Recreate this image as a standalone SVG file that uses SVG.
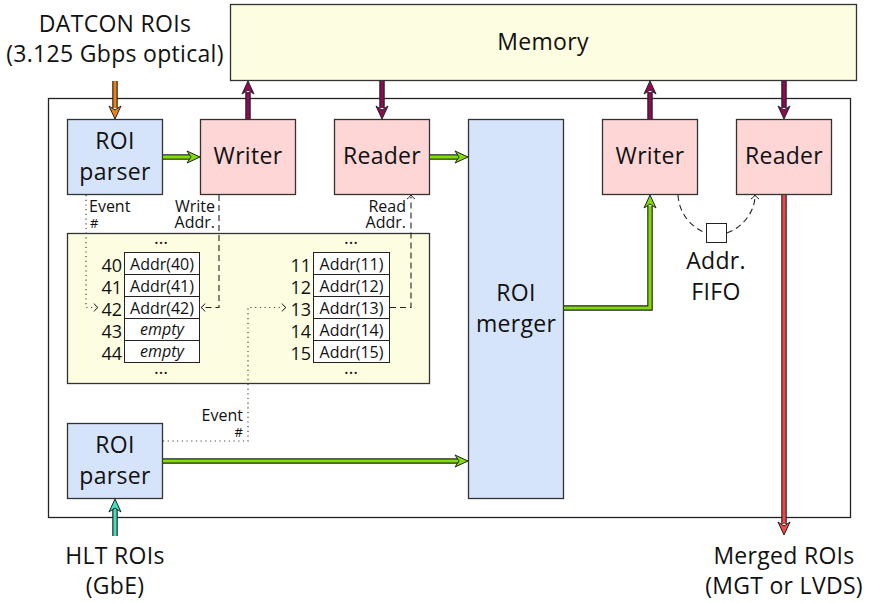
<svg xmlns="http://www.w3.org/2000/svg" xmlns:xlink="http://www.w3.org/1999/xlink" width="874" height="603" viewBox="0 0 874 603">
<style>
text{font-family:"Open Sans","Noto Sans",sans-serif;fill:#111}
.big{font-size:23px;letter-spacing:0.3px}
.sm{font-size:16px}
.hash{font-size:13px}
.cl{font-size:16px}
.num{font-size:18px}
.box{stroke:#333;stroke-width:1.3}
.parser{fill:#d5e4fb}
.rw{fill:#ffd6d6}
.mem{fill:#fdfde1}
.cell{fill:#fff;stroke:#222;stroke-width:1}
.dot{fill:none;stroke:#444;stroke-width:1.2;stroke-dasharray:1.2 3.5}
.dash{fill:none;stroke:#222;stroke-width:1.1;stroke-dasharray:6 4}
.out{fill:none;stroke:#222;stroke-width:5.5}
.g{fill:none;stroke:#80dd00;stroke-width:3.2}
.p{fill:none;stroke:#8e0a54;stroke-width:3.2}
.o{fill:none;stroke:#f08010;stroke-width:3.2}
.t{fill:none;stroke:#40e0c0;stroke-width:3.2}
.r{fill:none;stroke:#f04848;stroke-width:3.2}
.hg{fill:#80dd00;stroke:#222;stroke-width:1}
.hp{fill:#8e0a54;stroke:#222;stroke-width:1}
.ho{fill:#f08010;stroke:#222;stroke-width:1}
.ht{fill:#40e0c0;stroke:#222;stroke-width:1}
.hr{fill:#f04848;stroke:#222;stroke-width:1}
</style>
<defs>
<path id="ah" d="M0,0 L-13,-6 L-9,0 L-13,6 Z"/>
<path id="sh" d="M-4,-4 Q-2,-1 0,0 Q-2,1 -4,4" fill="none" stroke="#222" stroke-width="1"/>
</defs>

<g id="memory">
<rect class="box mem" x="230.5" y="4.5" width="626" height="76"/>
<text class="big" x="543" y="50" text-anchor="middle">Memory</text>
</g>

<g id="outer">
<rect x="48.5" y="98.5" width="802" height="419" fill="none" stroke="#222" stroke-width="1.3"/>
</g>

<g id="datcon-label">
<text class="big" x="115" y="32" text-anchor="middle">DATCON ROIs</text>
<text class="big" x="115" y="62" text-anchor="middle">(3.125 Gbps optical)</text>
</g>

<g id="roi-parser-top">
<rect class="box parser" x="67.5" y="119.5" width="95" height="75"/>
<text class="big" x="115" y="149" text-anchor="middle">ROI</text>
<text class="big" x="115" y="180" text-anchor="middle">parser</text>
</g>

<g id="writer1">
<rect class="box rw" x="200.5" y="119.5" width="95" height="75"/>
<text class="big" x="248" y="164" text-anchor="middle">Writer</text>
</g>

<g id="reader1">
<rect class="box rw" x="334.5" y="119.5" width="95" height="75"/>
<text class="big" x="382" y="164" text-anchor="middle">Reader</text>
</g>

<g id="roi-merger">
<rect class="box parser" x="468.5" y="119.5" width="95" height="379"/>
<text class="big" x="516" y="301" text-anchor="middle">ROI</text>
<text class="big" x="516" y="332" text-anchor="middle">merger</text>
</g>

<g id="writer2">
<rect class="box rw" x="602.5" y="119.5" width="95" height="75"/>
<text class="big" x="650" y="164" text-anchor="middle">Writer</text>
</g>

<g id="reader2">
<rect class="box rw" x="736.5" y="119.5" width="95" height="75"/>
<text class="big" x="784" y="164" text-anchor="middle">Reader</text>
</g>

<g id="roi-parser-bottom">
<rect class="box parser" x="67.5" y="423.5" width="95" height="75"/>
<text class="big" x="115" y="453" text-anchor="middle">ROI</text>
<text class="big" x="115" y="484" text-anchor="middle">parser</text>
</g>

<g id="lookup-table">
<rect class="box mem" x="67.5" y="233.5" width="362" height="150"/>
<text class="num" x="161" y="244" text-anchor="middle">…</text>
<text class="num" x="161" y="374" text-anchor="middle">…</text>
<text class="num" x="351" y="244" text-anchor="middle">…</text>
<text class="num" x="351" y="374" text-anchor="middle">…</text>
<g id="left-table">
<rect class="cell" x="124.5" y="252.5" width="75" height="22"/>
<rect class="cell" x="124.5" y="274.5" width="75" height="22"/>
<rect class="cell" x="124.5" y="296.5" width="75" height="22"/>
<rect class="cell" x="124.5" y="318.5" width="75" height="22"/>
<rect class="cell" x="124.5" y="340.5" width="75" height="22"/>
<text class="cl" x="162" y="269.5" text-anchor="middle">Addr(40)</text>
<text class="cl" x="162" y="291.5" text-anchor="middle">Addr(41)</text>
<text class="cl" x="162" y="313.5" text-anchor="middle">Addr(42)</text>
<text class="cl" x="162" y="334.5" text-anchor="middle" font-style="italic">empty</text>
<text class="cl" x="162" y="356.5" text-anchor="middle" font-style="italic">empty</text>
<text class="num" x="122" y="271.5" text-anchor="end">40</text>
<text class="num" x="122" y="293.5" text-anchor="end">41</text>
<text class="num" x="122" y="315.5" text-anchor="end">42</text>
<text class="num" x="122" y="337.5" text-anchor="end">43</text>
<text class="num" x="122" y="359.5" text-anchor="end">44</text>
</g>
<g id="right-table">
<rect class="cell" x="313.5" y="252.5" width="76" height="22"/>
<rect class="cell" x="313.5" y="274.5" width="76" height="22"/>
<rect class="cell" x="313.5" y="296.5" width="76" height="22"/>
<rect class="cell" x="313.5" y="318.5" width="76" height="22"/>
<rect class="cell" x="313.5" y="340.5" width="76" height="22"/>
<text class="cl" x="351.5" y="269.5" text-anchor="middle">Addr(11)</text>
<text class="cl" x="351.5" y="291.5" text-anchor="middle">Addr(12)</text>
<text class="cl" x="351.5" y="313.5" text-anchor="middle">Addr(13)</text>
<text class="cl" x="351.5" y="335.5" text-anchor="middle">Addr(14)</text>
<text class="cl" x="351.5" y="357.5" text-anchor="middle">Addr(15)</text>
<text class="num" x="311" y="271.5" text-anchor="end">11</text>
<text class="num" x="311" y="293.5" text-anchor="end">12</text>
<text class="num" x="311" y="315.5" text-anchor="end">13</text>
<text class="num" x="311" y="337.5" text-anchor="end">14</text>
<text class="num" x="311" y="359.5" text-anchor="end">15</text>
</g>
</g>

<g id="fifo">
<rect x="706.5" y="223.5" width="20" height="19" fill="#fff" stroke="#222" stroke-width="1"/>
<text class="big" x="716" y="269" text-anchor="middle">Addr.</text>
<text class="big" x="716" y="300" text-anchor="middle">FIFO</text>
</g>

<g id="hlt-label">
<text class="big" x="115" y="564" text-anchor="middle">HLT ROIs</text>
<text class="big" x="115" y="594" text-anchor="middle">(GbE)</text>
</g>

<g id="merged-label">
<text class="big" x="784" y="564" text-anchor="middle">Merged ROIs</text>
<text class="big" x="784" y="594" text-anchor="middle">(MGT or LVDS)</text>
</g>

<g id="edge-labels">
<text class="sm" x="89" y="212">Event</text>
<text class="hash" x="90" y="228">#</text>
<text class="sm" x="215" y="212" text-anchor="end">Write</text>
<text class="sm" x="215" y="228" text-anchor="end">Addr.</text>
<text class="sm" x="406" y="212" text-anchor="end">Read</text>
<text class="sm" x="406" y="228" text-anchor="end">Addr.</text>
<text class="sm" x="243" y="421" text-anchor="end">Event</text>
<text class="hash" x="243" y="437" text-anchor="end">#</text>
</g>

<g id="connectors">
<path class="out" d="M115,81 V108"/><path class="o" d="M115,81 V108"/>
<use xlink:href="#ah" class="ho" transform="translate(115,119) rotate(90)"/>

<path class="out" d="M115,536 V509"/><path class="t" d="M115,536 V509"/>
<use xlink:href="#ah" class="ht" transform="translate(115,499) rotate(-90)"/>

<path class="out" d="M248,119 V92"/><path class="p" d="M248,119 V92"/>
<use xlink:href="#ah" class="hp" transform="translate(248,81) rotate(-90)"/>

<path class="out" d="M382,81 V108"/><path class="p" d="M382,81 V108"/>
<use xlink:href="#ah" class="hp" transform="translate(382,119) rotate(90)"/>

<path class="out" d="M650,119 V92"/><path class="p" d="M650,119 V92"/>
<use xlink:href="#ah" class="hp" transform="translate(650,81) rotate(-90)"/>

<path class="out" d="M784,81 V108"/><path class="p" d="M784,81 V108"/>
<use xlink:href="#ah" class="hp" transform="translate(784,119) rotate(90)"/>

<path class="out" d="M163,157 H190"/><path class="g" d="M163,157 H190"/>
<use xlink:href="#ah" class="hg" transform="translate(200,157)"/>

<path class="out" d="M430,157 H458"/><path class="g" d="M430,157 H458"/>
<use xlink:href="#ah" class="hg" transform="translate(468,157)"/>

<path class="out" d="M564,308 H650 V206"/><path class="g" d="M564,308 H650 V206"/>
<use xlink:href="#ah" class="hg" transform="translate(650,195) rotate(-90)"/>

<path class="out" d="M163,461 H458"/><path class="g" d="M163,461 H458"/>
<use xlink:href="#ah" class="hg" transform="translate(468,461)"/>

<path class="out" d="M784,195 V524"/><path class="r" d="M784,195 V524"/>
<use xlink:href="#ah" class="hr" transform="translate(784,535) rotate(90)"/>

<path class="dot" d="M86,195 V307.5 H96"/>
<use xlink:href="#sh" transform="translate(98,307.5)"/>
<path class="dot" d="M163,441 H248 V307.5 H283"/>
<use xlink:href="#sh" transform="translate(286,307.5)"/>

<path class="dash" d="M219,195 V307.5 H203"/>
<use xlink:href="#sh" transform="translate(201,307.5) rotate(180)"/>
<path class="dash" d="M390,307.5 H411 V197"/>
<use xlink:href="#sh" transform="translate(411,195) rotate(-90)"/>

<path class="dash" d="M678,195 C679,214 692,228 706,233"/>
<path class="dash" d="M727,233 C741,228 754,214 755,197"/>
<use xlink:href="#sh" transform="translate(755,195) rotate(-90)"/>
</g>
</svg>
